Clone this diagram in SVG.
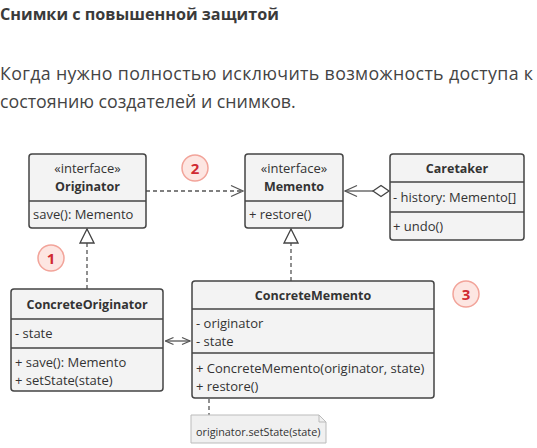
<svg xmlns="http://www.w3.org/2000/svg" width="537" height="448" viewBox="0 0 537 448">
<defs>
<style>
.t{font-family:"Open Sans","Noto Sans","DejaVu Sans",sans-serif;fill:#3a3a3a}
.h{font-size:16.2px;font-weight:bold}
.p{font-size:17.8px;fill:#444}
.box{fill:#f3f3f3;stroke:#444;stroke-width:1.5}
.ln{stroke:#444;stroke-width:1.5;fill:none}
.d{font-family:"Open Sans","Noto Sans","DejaVu Sans",sans-serif;font-size:13px;fill:#333}
.b{font-weight:bold;font-size:12.5px}
.c{text-anchor:middle}
.con{stroke:#555;stroke-width:1.3;fill:none}
.dash{stroke-dasharray:4,3}
.badge circle{fill:#fde6e2;stroke:#f2a49a;stroke-width:1.5}
.badge text{font-family:"Open Sans","Noto Sans",sans-serif;font-size:15px;font-weight:bold;fill:#d02a32;text-anchor:middle}
</style>
<marker id="open" viewBox="0 0 14 14" refX="13" refY="7" markerWidth="14" markerHeight="14" markerUnits="userSpaceOnUse" orient="auto-start-reverse">
<path d="M1,1.5 L13,7 L1,12.5" fill="none" stroke="#555" stroke-width="1.3"/>
</marker>
<marker id="opens" viewBox="0 0 10 10" refX="9" refY="5" markerWidth="10" markerHeight="10" markerUnits="userSpaceOnUse" orient="auto-start-reverse">
<path d="M1,1.5 L9,5 L1,8.5" fill="none" stroke="#555" stroke-width="1.3"/>
</marker>
<marker id="tri" viewBox="0 0 16 16" refX="15" refY="8" markerWidth="16" markerHeight="16" markerUnits="userSpaceOnUse" orient="auto">
<path d="M1,1 L15,8 L1,15 Z" fill="#fff" stroke="#444" stroke-width="1.3"/>
</marker>
</defs>
<rect width="537" height="448" fill="#fff"/>
<text class="t h" x="0" y="20">Снимки с повышенной защитой</text>
<text class="t p" x="0" y="80" textLength="533" lengthAdjust="spacing">Когда нужно полностью исключить возможность доступа к</text>
<text class="t p" x="0" y="108">состоянию создателей и снимков.</text>

<g id="connectors">
<line class="con dash" x1="146" y1="191" x2="243" y2="191" marker-end="url(#open)"/>
<line class="con" x1="373" y1="191" x2="345" y2="191" marker-end="url(#open)"/>
<path d="M373,191 L381,185.5 L389,191 L381,196.5 Z" fill="#fff" stroke="#444" stroke-width="1.3"/>
<line class="con dash" x1="87" y1="289" x2="87" y2="229" marker-end="url(#tri)"/>
<line class="con dash" x1="291" y1="281" x2="291" y2="229" marker-end="url(#tri)"/>
<line class="con" x1="165.5" y1="341" x2="190" y2="341" marker-start="url(#opens)" marker-end="url(#opens)"/>
<line class="con dash" x1="209" y1="399" x2="209" y2="415" stroke="#aaa"/>
</g>

<g id="Originator">
<rect class="box" x="29" y="154" width="117" height="74" rx="3"/>
<line class="ln" x1="29" y1="201" x2="146" y2="201"/>
<text class="d c" x="87.5" y="173">«interface»</text>
<text class="d b c" x="87.5" y="191">Originator</text>
<text class="d" x="33" y="219">save(): Memento</text>
</g>

<g id="Memento">
<rect class="box" x="245" y="154" width="98" height="74" rx="3"/>
<line class="ln" x1="245" y1="201" x2="343" y2="201"/>
<text class="d c" x="294" y="173">«interface»</text>
<text class="d b c" x="294" y="191">Memento</text>
<text class="d" x="249" y="219">+ restore()</text>
</g>

<g id="Caretaker">
<rect class="box" x="390" y="154" width="134" height="86" rx="3"/>
<line class="ln" x1="390" y1="182" x2="524" y2="182"/>
<line class="ln" x1="390" y1="212" x2="524" y2="212"/>
<text class="d b c" x="457" y="173">Caretaker</text>
<text class="d" x="393" y="202">- history: Memento[]</text>
<text class="d" x="393" y="231">+ undo()</text>
</g>

<g id="ConcreteOriginator">
<rect class="box" x="11" y="289" width="152" height="102" rx="3"/>
<line class="ln" x1="11" y1="319" x2="163" y2="319"/>
<line class="ln" x1="11" y1="348" x2="163" y2="348"/>
<text class="d b c" x="87" y="309">ConcreteOriginator</text>
<text class="d" x="15" y="338">- state</text>
<text class="d" x="15" y="367">+ save(): Memento</text>
<text class="d" x="15" y="385">+ setState(state)</text>
</g>

<g id="ConcreteMemento">
<rect class="box" x="192" y="281" width="242" height="117" rx="3"/>
<line class="ln" x1="192" y1="309" x2="434" y2="309"/>
<line class="ln" x1="192" y1="353" x2="434" y2="353"/>
<text class="d b c" x="313" y="300">ConcreteMemento</text>
<text class="d" x="196" y="328">- originator</text>
<text class="d" x="196" y="346">- state</text>
<text class="d" x="196" y="373">+ ConcreteMemento(originator, state)</text>
<text class="d" x="196" y="391">+ restore()</text>
</g>

<g id="note">
<path d="M191,415 H319 L326,422 V443 H191 Z" fill="#f0f0f0" stroke="#bbb" stroke-width="1"/>
<path d="M319,415 V422 H326" fill="none" stroke="#bbb" stroke-width="1"/>
<text class="d" x="196" y="436" style="font-size:10.8px">originator.setState(state)</text>
</g>

<g id="badge1" class="badge"><circle cx="51" cy="258" r="13"/><text x="51" y="264">1</text></g>
<g id="badge2" class="badge"><circle cx="195" cy="168" r="13"/><text x="195" y="174">2</text></g>
<g id="badge3" class="badge"><circle cx="466" cy="294" r="13"/><text x="466" y="300">3</text></g>
</svg>
